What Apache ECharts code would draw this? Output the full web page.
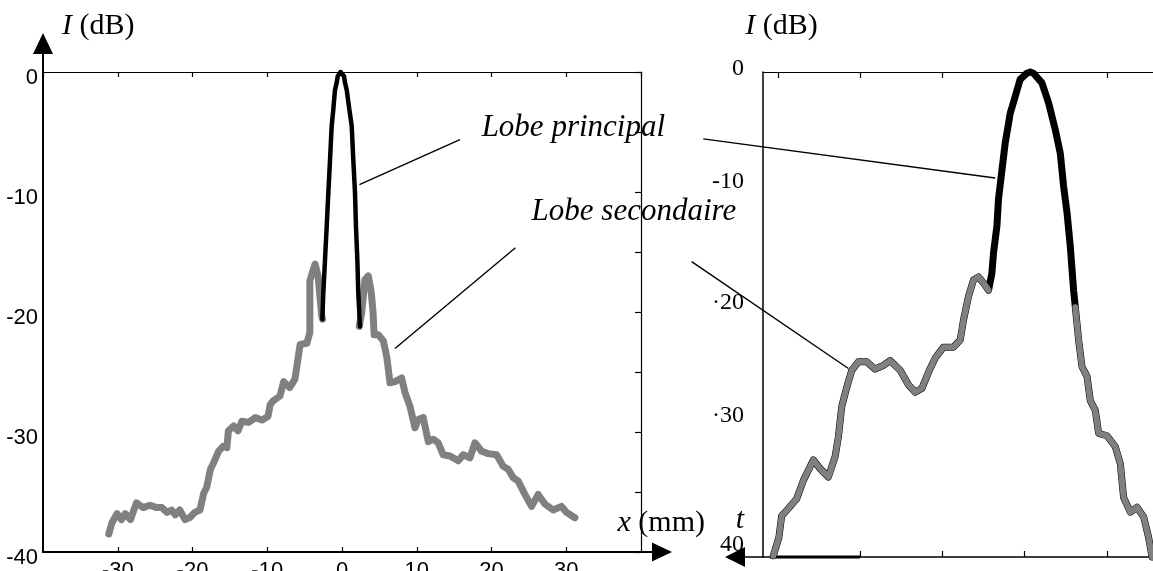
<!DOCTYPE html>
<html>
<head>
<meta charset="utf-8">
<title>Lobe principal / lobe secondaire</title>
<script src="https://cdn.jsdelivr.net/npm/echarts@6/dist/echarts.min.js"></script>
<style>
  html, body { margin: 0; padding: 0; background: #fff; }
  #chart { width: 1153px; height: 571px; }
</style>
</head>
<body>
<div id="chart"></div>
<script>
// profil de gauche : x (mm), I (dB)
const lobeSecGauche = [
  [-31.2, -38.5], [-30.8, -37.6], [-30.1, -36.8], [-29.5, -37.3], [-29.0, -36.8], [-28.3, -37.3],
  [-27.5, -35.9], [-26.6, -36.3], [-25.7, -36.1], [-24.8, -36.3], [-24.1, -36.3], [-23.4, -36.7],
  [-22.8, -36.5], [-22.3, -36.9], [-21.7, -36.5], [-21.0, -37.3], [-20.3, -37.1], [-19.7, -36.7],
  [-19.0, -36.5], [-18.5, -35.1], [-18.1, -34.6], [-17.6, -33.1], [-17.2, -32.6], [-16.5, -31.6],
  [-15.9, -31.2], [-15.4, -31.3], [-15.2, -29.9], [-14.5, -29.5], [-13.9, -29.9], [-13.4, -29.1],
  [-12.5, -29.2], [-11.6, -28.8], [-10.7, -29.0], [-9.9, -28.7], [-9.6, -27.7], [-9.2, -27.4],
  [-8.3, -27.0], [-7.8, -25.8], [-7.0, -26.3], [-6.3, -25.6], [-5.6, -22.7], [-4.7, -22.6],
  [-4.3, -21.7], [-4.3, -17.4], [-3.6, -16.0], [-3.2, -17.0], [-2.7, -20.4], [-2.6, -20.6]
];
const lobePrincipal = [
  [-2.63, -20.6], [-2.5, -18.4], [-2.27, -15.6], [-2.05, -12.9], [-1.83, -10.1], [-1.6, -7.3],
  [-1.38, -4.5], [-1.16, -3.1], [-0.94, -1.5], [-0.71, -0.9], [-0.57, -0.35], [-0.2, 0],
  [0.27, -0.35], [0.4, -0.9], [0.63, -1.5], [0.98, -3.1], [1.3, -4.5], [1.51, -7.3],
  [1.74, -10.1], [1.87, -12.9], [2.05, -15.6], [2.18, -18.4], [2.41, -21.2]
];
const lobeSecDroite = [
  [2.31, -21.2], [2.63, -20.1], [3.07, -17.3], [3.52, -17.0], [3.9, -18.3], [4.15, -20.0],
  [4.3, -21.9], [4.85, -21.9], [5.52, -22.4], [5.98, -23.7], [6.42, -25.9], [7.09, -25.8],
  [7.98, -25.5], [8.42, -26.7], [9.09, -27.85], [9.76, -29.65], [10.2, -28.96], [10.87, -28.8],
  [11.54, -30.8], [12.21, -30.6], [12.87, -30.9], [13.54, -31.9], [14.44, -32.0], [15.55, -32.4],
  [16.22, -31.9], [17.11, -32.15], [17.78, -30.9], [18.68, -31.6], [19.56, -31.8], [20.68, -31.9],
  [21.56, -32.85], [22.23, -33.1], [22.9, -33.8], [23.57, -34.1], [24.47, -35.2], [25.36, -36.2],
  [26.24, -35.2], [27.14, -36.0], [28.25, -36.5], [29.37, -36.2], [30.04, -36.7], [31.15, -37.15]
];

// profil de droite : axe t sans valeurs, I (dB)
const lobeSecGauche2 = [
  [-0.055, -39.9], [0.013, -38.4], [0.047, -36.6], [0.128, -36.0], [0.23, -35.2], [0.31, -33.7],
  [0.432, -32.0], [0.513, -32.7], [0.614, -33.4], [0.696, -31.75], [0.736, -30.1], [0.777, -27.6],
  [0.838, -26.0], [0.899, -24.6], [0.979, -23.9], [1.082, -23.9], [1.182, -24.5], [1.283, -24.2],
  [1.365, -23.8], [1.487, -24.6], [1.588, -25.8], [1.669, -26.4], [1.751, -26.1], [1.852, -24.45],
  [1.912, -23.6], [2.013, -22.7], [2.135, -22.7], [2.217, -22.1], [2.257, -20.45], [2.318, -18.5],
  [2.378, -17.15], [2.439, -16.9], [2.5, -17.4], [2.561, -18.0]
];
const lobePrincipal2 = [
  [2.561, -18.0], [2.602, -16.6], [2.622, -14.9], [2.663, -12.7], [2.682, -10.5], [2.724, -8.1],
  [2.764, -5.85], [2.825, -3.4], [2.886, -2.0], [2.946, -0.6], [3.028, -0.1], [3.068, 0],
  [3.108, -0.1], [3.21, -0.9], [3.291, -2.55], [3.372, -4.75], [3.433, -6.7], [3.473, -9.4],
  [3.515, -11.6], [3.555, -14.4], [3.595, -18.0], [3.616, -19.4]
];
const lobeSecDroite2 = [
  [3.616, -19.4], [3.656, -22.1], [3.697, -24.3], [3.758, -25.1], [3.798, -27.1], [3.859, -27.9],
  [3.899, -29.8], [4.001, -30.0], [4.102, -30.9], [4.163, -32.3], [4.203, -35.1], [4.285, -36.3],
  [4.366, -35.9], [4.447, -36.7], [4.507, -38.4], [4.549, -40.0]
];
const plancher2 = [[-0.095, -40], [1.0, -40]];

// graduations
const ticksHautDroite = [0, 1, 2, 3, 4];
const ticksBasDroite = [1, 2, 3, 4];
const valeursYDroite = [0, -10, -20, -30, -40];
const etiquettesYDroite = ['{z|0}', '-10', '·20', '{w|·30}', '40'];

// annotations (coordonnées dans le repère de chaque graphe)
const textesGauche = [
  { texte: 'Lobe principal', pos: [18.68, -4.69] },
  { texte: 'Lobe secondaire', pos: [25.36, -11.69] }
];
const traitsGauche = [
  [[15.78, -5.63], [2.33, -9.38]],
  [[23.2, -14.65], [7.09, -23.04]]
];
const traitsDroite = [
  [[-0.906, -5.52], [2.642, -8.74]],
  [[-1.047, -15.64], [0.858, -24.45]]
];

const serif = "'Liberation Serif', 'Times New Roman', serif";
const sansEtroit = "'Liberation Sans Narrow', 'Liberation Sans', Arial, sans-serif";
const gris = '#808080';

// flèches d'axe : pointe + petit bout de trait
const flecheY = 'path://M10 0 L20 21 L0 21 Z M9 21 L11 21 L11 39 L9 39 Z';
const flecheX = 'path://M9.5 0 L19 20 L0 20 Z M8.5 20 L10.5 20 L10.5 31 L8.5 31 Z';
const flecheT = 'path://M10 0 L20 20 L0 20 Z M9.25 20 L10.75 20 L10.75 38 L9.25 38 Z';

const nomStyle = {
  color: '#000', fontFamily: serif, fontSize: 30,
  rich: { i: { fontStyle: 'italic', fontFamily: serif, fontSize: 30, color: '#000' } }
};

const chart = echarts.init(document.getElementById('chart'));

const option = {
  animation: false,
  backgroundColor: '#fff',
  grid: [
    { left: 43, top: 72, width: 598, height: 480, containLabel: false, outerBoundsMode: 'none' },
    { left: 763, top: 72, width: 390, height: 485, containLabel: false, outerBoundsMode: 'none' }
  ],
  xAxis: [
    {
      gridIndex: 0, type: 'value', position: 'bottom', min: -40, max: 40, interval: 10,
      axisLine: {
        onZero: false, lineStyle: { color: '#000', width: 2 },
        symbol: ['none', flecheX], symbolSize: [19, 31], symbolOffset: [0, 15.5]
      },
      axisTick: { inside: true, length: 5, lineStyle: { color: '#000', width: 1.2 } },
      axisLabel: {
        showMinLabel: false, showMaxLabel: false, color: '#000',
        fontFamily: sansEtroit, fontSize: 22, margin: 8
      },
      splitLine: { show: false },
      name: '{i|x} (mm)', nameLocation: 'end', nameGap: 64, nameMoveOverlap: false,
      nameTextStyle: Object.assign({ align: 'right', verticalAlign: 'bottom', padding: [0, 0, 14, 0] }, nomStyle)
    },
    {
      gridIndex: 0, type: 'value', position: 'top', min: -40, max: 40, interval: 10,
      axisLine: { onZero: false, lineStyle: { color: '#000', width: 1.2 } },
      axisTick: { inside: true, length: 5, lineStyle: { color: '#000', width: 1.2 } },
      axisLabel: { show: false },
      splitLine: { show: false }
    },
    {
      gridIndex: 1, type: 'value', position: 'bottom', min: -0.18, max: 4.56,
      axisLine: {
        onZero: false, lineStyle: { color: '#000', width: 1.5 },
        symbol: [flecheT, 'none'], symbolSize: [20, 38], symbolOffset: [-19, 0]
      },
      axisTick: { inside: true, length: 6, customValues: ticksBasDroite, lineStyle: { color: '#000', width: 1.2 } },
      axisLabel: { show: false },
      splitLine: { show: false },
      name: '{i|t}', nameLocation: 'start', nameGap: 19, nameMoveOverlap: false,
      nameTextStyle: Object.assign({ align: 'right', verticalAlign: 'bottom', padding: [0, 0, 22, 0] }, nomStyle)
    },
    {
      gridIndex: 1, type: 'value', position: 'top', min: -0.18, max: 4.56,
      axisLine: { onZero: false, lineStyle: { color: '#000', width: 1.2 } },
      axisTick: { inside: true, length: 6, customValues: ticksHautDroite, lineStyle: { color: '#000', width: 1.2 } },
      axisLabel: { show: false },
      splitLine: { show: false }
    }
  ],
  yAxis: [
    {
      gridIndex: 0, type: 'value', position: 'left', min: -40, max: 0, interval: 10,
      axisLine: {
        onZero: false, lineStyle: { color: '#000', width: 2 },
        symbol: ['none', flecheY], symbolSize: [20, 39], symbolOffset: [0, 19.5]
      },
      axisTick: { show: false },
      axisLabel: {
        color: '#000', fontFamily: sansEtroit, fontSize: 22, margin: 5,
        verticalAlign: 'top', lineHeight: 12
      },
      splitLine: { show: false },
      name: '{i|I} (dB)', nameLocation: 'end', nameGap: 31, nameMoveOverlap: false,
      nameTextStyle: Object.assign({ align: 'left', verticalAlign: 'bottom', padding: [0, 0, 0, 19] }, nomStyle)
    },
    {
      gridIndex: 0, type: 'value', position: 'right', min: -40, max: 0, interval: 5,
      axisLine: { onZero: false, lineStyle: { color: '#000', width: 1.2 } },
      axisTick: { inside: true, length: 6, lineStyle: { color: '#000', width: 1.2 } },
      axisLabel: { show: false },
      splitLine: { show: false }
    },
    {
      gridIndex: 1, type: 'value', position: 'left', min: -40, max: 0, interval: 10,
      axisLine: { onZero: false, lineStyle: { color: '#000', width: 1.5 } },
      axisTick: { show: false },
      axisLabel: {
        color: '#000', fontFamily: serif, fontSize: 24, margin: 19,
        verticalAlign: 'bottom', lineHeight: 24,
        rich: {
          z: { fontFamily: serif, fontSize: 24, color: '#000', lineHeight: 6 },
          w: { fontFamily: serif, fontSize: 24, color: '#000', lineHeight: 40 }
        },
        formatter: function (v) {
          const k = valeursYDroite.indexOf(v);
          return k >= 0 ? etiquettesYDroite[k] : '';
        }
      },
      splitLine: { show: false },
      name: '{i|I} (dB)', nameLocation: 'end', nameGap: 31, nameMoveOverlap: false,
      nameTextStyle: Object.assign({ align: 'center', verticalAlign: 'bottom', padding: [0, 0, 0, 37] }, nomStyle)
    }
  ],
  series: [
    {
      type: 'line', xAxisIndex: 0, yAxisIndex: 0, data: lobeSecGauche, showSymbol: false,
      clip: false, silent: true, z: 2,
      lineStyle: { color: gris, width: 7, cap: 'round', join: 'round' }
    },
    {
      type: 'line', xAxisIndex: 0, yAxisIndex: 0, data: lobeSecDroite, showSymbol: false,
      clip: false, silent: true, z: 2,
      lineStyle: { color: gris, width: 7, cap: 'round', join: 'round' }
    },
    {
      type: 'line', xAxisIndex: 0, yAxisIndex: 0, data: lobePrincipal, showSymbol: false,
      clip: false, silent: true, z: 3,
      lineStyle: { color: '#000', width: 4.5, cap: 'round', join: 'round' }
    },
    {
      type: 'line', xAxisIndex: 2, yAxisIndex: 2,
      data: lobeSecGauche2.concat(lobePrincipal2.slice(1), lobeSecDroite2.slice(1)),
      showSymbol: false, clip: false, silent: true, z: 2,
      lineStyle: { color: '#000', width: 7, cap: 'round', join: 'round' }
    },
    {
      type: 'line', xAxisIndex: 2, yAxisIndex: 2, data: plancher2, showSymbol: false,
      clip: false, silent: true, z: 2,
      lineStyle: { color: '#000', width: 3 }
    },
    {
      type: 'line', xAxisIndex: 2, yAxisIndex: 2, data: lobeSecGauche2, showSymbol: false,
      clip: false, silent: true, z: 3,
      lineStyle: { color: gris, width: 6, cap: 'round', join: 'round' }
    },
    {
      type: 'line', xAxisIndex: 2, yAxisIndex: 2, data: lobeSecDroite2, showSymbol: false,
      clip: false, silent: true, z: 3,
      lineStyle: { color: gris, width: 6, cap: 'round', join: 'round' }
    }
  ]
};

chart.setOption(option);

// textes et traits de rappel, placés via les repères des deux graphes
function versPixel(g, p) {
  return chart.convertToPixel(g === 0 ? { xAxisIndex: 0, yAxisIndex: 0 } : { xAxisIndex: 2, yAxisIndex: 2 }, p);
}
const elements = [];
textesGauche.forEach(function (t) {
  const p = versPixel(0, t.pos);
  elements.push({
    type: 'text', x: p[0], y: p[1], z: 20, silent: true,
    style: {
      text: t.texte, font: 'italic 31px ' + serif, fill: '#000',
      align: 'left', verticalAlign: 'middle', textAlign: 'left', textVerticalAlign: 'middle'
    }
  });
});
function ajouterTrait(g, seg) {
  const a = versPixel(g, seg[0]);
  const b = versPixel(g, seg[1]);
  elements.push({
    type: 'line', z: 20, silent: true,
    shape: { x1: a[0], y1: a[1], x2: b[0], y2: b[1] },
    style: { stroke: '#000', lineWidth: 1.4 }
  });
}
traitsGauche.forEach(function (s) { ajouterTrait(0, s); });
traitsDroite.forEach(function (s) { ajouterTrait(1, s); });

chart.setOption({ graphic: elements });
</script>
</body>
</html>
